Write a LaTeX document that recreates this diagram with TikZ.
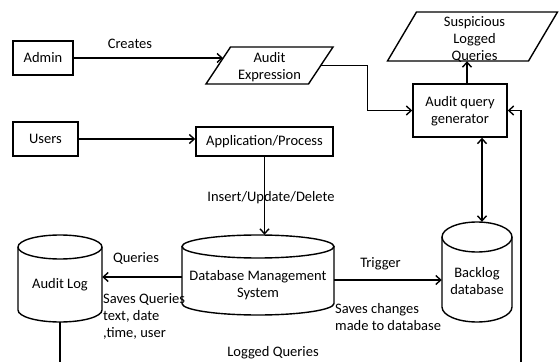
\documentclass[tikz,border=0pt]{standalone}
\usepackage{fontspec}
\setmainfont{Carlito}
\usetikzlibrary{arrows.meta,calc}
\newcommand\mycyl[5]{%
  \draw[shp] ({#1},{#2+#4/2-#5}) ellipse[x radius=#3pt, y radius=#5pt];
  \draw[shp] ({#1-#3},{#2+#4/2-#5}) -- ({#1-#3},{#2-#4/2+#5})
    arc[start angle=180,end angle=360,x radius=#3pt,y radius=#5pt]
    -- ({#1+#3},{#2+#4/2-#5});}
\newcommand\myparal[5]{%
  \draw[shp] ({#1-#3/2-#5},{#2-#4/2}) -- ({#1-#3/2+#5},{#2+#4/2})
    -- ({#1+#3/2+#5},{#2+#4/2}) -- ({#1+#3/2-#5},{#2-#4/2}) -- cycle;}
\begin{document}
\begin{tikzpicture}[x=1pt,y=1pt,
  every node/.style={font=\fontsize{14.5}{17}\selectfont, inner sep=0pt},
  shp/.style={line width=1.4pt},
  box/.style={draw, line width=1.4pt, align=center},
  ghost/.style={align=center},
  arr/.style={line width=1.4pt, -{Straight Barb[length=5pt,width=9pt]}},
  darr/.style={line width=1.4pt, {Straight Barb[length=5pt,width=9pt]}-{Straight Barb[length=5pt,width=9pt]}}]
\useasboundingbox (0,0) rectangle (560,362);
% boxes
\node[box, minimum width=60pt, minimum height=34pt] (admin) at (43,304) {Admin};
\node[box, minimum width=65pt, minimum height=34pt] (users) at (45.5,223) {Users};
\node[box, minimum width=137pt, minimum height=29pt] (app) at (264.5,220.5) {Application/Process};
\node[box, minimum width=94pt, minimum height=53pt, text depth=2pt] (gen) at (460,251.5) {Audit query\\generator};
% parallelograms
\myparal{269.5}{296.5}{102.5}{37}{12.25}
\node[ghost, minimum width=102.5pt, minimum height=37pt] (ae) at (269.5,296.5) {};
\node[align=center] (aetxt) at (269.5,294.5) {Audit\\Expression};
\myparal{472.5}{325.5}{141}{49}{14.5}
\node[ghost, minimum width=141pt, minimum height=49pt] (susp) at (474,325.5) {};
\node[align=center] (susptxt) at (474.5,322.5) {Suspicious\\Logged\\Queries};
% cylinders
\mycyl{60}{83.5}{42}{87}{12}
\node[ghost, minimum width=84pt, minimum height=87pt] (al) at (60,83.5) {};
\node (altxt) at (60,77) {Audit Log};
\mycyl{258}{87}{76}{80}{11.5}
\node[ghost, minimum width=152pt, minimum height=80pt] (dbms) at (258,87) {};
\node[align=center] (dbmstxt) at (258,77) {Database Management\\System};
\mycyl{477}{90}{35}{100}{15}
\node[ghost, minimum width=70pt, minimum height=100pt] (bl) at (477,90) {};
\node[align=center] (bltxt) at (477,80.5) {Backlog\\database};
% free ends at the lower border
\coordinate (rb) at (521,0);
\coordinate (alb) at (60,0);
% connectors
\draw[arr] (admin.east) -- ($(admin.east -| ae.west)+(5,0)$);
\node (creates) at (130,318) {Creates};
\draw[arr] (ae.east) -- ++(46.5,0) |- (gen.west);
\draw[arr] ([xshift=7pt]gen.north) -- ([xshift=7pt]gen.north |- susp.south);
\draw[arr] (rb) |- (gen.east);
\draw[darr] ([xshift=22pt]gen.south) -- ([xshift=22pt]gen.south |- bl.north);
\draw[arr] (users.east) -- (users.east -| app.west);
\draw[arr] (app.south) -- (app.south |- dbms.north);
\node (iud) at (271,164) {Insert/Update/Delete};
\draw[arr] ([yshift=-2pt]dbms.west) -- ([yshift=-2pt]dbms.west -| al.east);
\node (queries) at (136,104) {Queries};
\node[anchor=west, align=left] (saveq) at (103,45.5) {Saves Queries\\text, date\\,time, user};
\draw[arr] ([yshift=-5pt]dbms.east) -- ([yshift=-5pt]dbms.east -| bl.west);
\node (trigger) at (380.5,98) {Trigger};
\node[anchor=west, align=left] (savec) at (335,45) {Saves changes\\made to database};
\node (logged) at (273,9) {Logged Queries};
\draw[shp] (al.south) -- (alb);
\end{tikzpicture}
\end{document}
